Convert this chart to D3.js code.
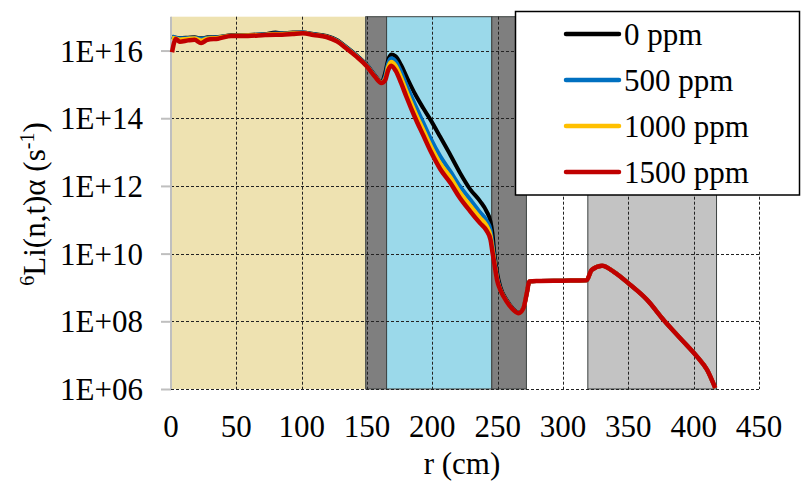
<!DOCTYPE html>
<html>
<head>
<meta charset="utf-8">
<script src="https://cdn.jsdelivr.net/npm/d3@7"></script>
<style>
  html, body { margin: 0; padding: 0; background: #fff; }
</style>
</head>
<body>
<div id="chart"></div>
<script>
// radial positions (cm), shared by all series
const radius = [0.8, 3.7, 6.7, 13, 18, 23, 28, 36, 46, 59, 72, 80, 85, 93, 101, 109, 119, 127, 134, 142,
  150, 156, 161, 164, 166, 168.5, 172, 176, 180, 187, 193, 199, 206, 214, 221, 229, 236.5, 241.5, 244.5, 246,
  247.5, 249.5, 252, 257, 262, 266, 269.7, 272.3, 274.3, 280, 300, 318, 322, 330, 338.6, 351.4, 364.2, 377, 389.7, 402.5,
  410.2, 416.5];

// log10 of the 6Li(n,t)a rate (s^-1)
const log_0ppm = [16.40, 16.38, 16.37, 16.38, 16.39, 16.36, 16.39, 16.40, 16.45, 16.46, 16.49, 16.53, 16.51, 16.53, 16.53, 16.49, 16.43, 16.31, 16.11, 15.86,
  15.57, 15.27, 15.06, 15.35, 15.70, 15.88, 15.83, 15.58, 15.25, 14.70, 14.30, 13.93, 13.45, 12.90, 12.40, 11.90, 11.55, 11.25, 10.95, 10.60,
  10.00, 9.45, 9.02, 8.62, 8.36, 8.25, 8.39, 8.83, 9.18, 9.19, 9.20, 9.21, 9.52, 9.64, 9.47, 9.08, 8.64, 8.04, 7.50, 6.96,
  6.57, 6.03];
const log_500ppm = [16.42, 16.38, 16.36, 16.37, 16.38, 16.35, 16.38, 16.39, 16.44, 16.45, 16.48, 16.50, 16.50, 16.52, 16.53, 16.48, 16.42, 16.30, 16.10, 15.85,
  15.56, 15.26, 15.05, 15.25, 15.60, 15.77, 15.68, 15.38, 15.00, 14.38, 13.88, 13.38, 12.88, 12.42, 12.00, 11.60, 11.22, 10.98, 10.70, 10.30,
  9.85, 9.32, 8.96, 8.60, 8.35, 8.24, 8.39, 8.83, 9.18, 9.19, 9.20, 9.21, 9.52, 9.64, 9.47, 9.08, 8.64, 8.04, 7.50, 6.96,
  6.57, 6.03];
const log_1000ppm = [16.38, 16.36, 16.33, 16.35, 16.36, 16.30, 16.36, 16.38, 16.44, 16.45, 16.47, 16.49, 16.49, 16.51, 16.52, 16.47, 16.41, 16.28, 16.08, 15.83,
  15.54, 15.24, 15.05, 15.18, 15.50, 15.67, 15.55, 15.22, 14.82, 14.17, 13.67, 13.17, 12.67, 12.25, 11.82, 11.42, 11.06, 10.83, 10.55, 10.18,
  9.77, 9.27, 8.94, 8.59, 8.34, 8.24, 8.39, 8.83, 9.18, 9.19, 9.20, 9.21, 9.52, 9.64, 9.47, 9.08, 8.64, 8.04, 7.50, 6.96,
  6.57, 6.03];
const log_1500ppm = [15.95, 16.34, 16.26, 16.30, 16.32, 16.22, 16.32, 16.35, 16.43, 16.43, 16.46, 16.47, 16.47, 16.49, 16.51, 16.46, 16.40, 16.27, 16.07, 15.82,
  15.53, 15.23, 15.04, 15.13, 15.40, 15.55, 15.40, 15.05, 14.65, 14.00, 13.50, 13.00, 12.50, 12.08, 11.65, 11.25, 10.90, 10.68, 10.42, 10.05,
  9.70, 9.23, 8.93, 8.58, 8.34, 8.24, 8.39, 8.83, 9.18, 9.19, 9.20, 9.21, 9.52, 9.64, 9.47, 9.08, 8.64, 8.04, 7.50, 6.96,
  6.57, 6.03];

const seriesNames = ['0 ppm', '500 ppm', '1000 ppm', '1500 ppm'];
const seriesColors = ['#000000', '#0070c0', '#ffc000', '#c00000'];
const seriesLogs = [log_0ppm, log_500ppm, log_1000ppm, log_1500ppm];

// material regions along r (cm)
const regionStart = [0, 149, 165, 245.5, 319];
const regionEnd = [149, 165, 245.5, 272, 417.5];
const regionFill = ['#eee2b1', '#7f7f7f', '#9bd9ea', '#7f7f7f', '#c3c3c3'];

const xTicks = [0, 50, 100, 150, 200, 250, 300, 350, 400, 450];
const yTicks = [1e6, 1e8, 1e10, 1e12, 1e14, 1e16];

const width = 803, height = 488;
const plot = { left: 171, right: 759, top: 16.7, bottom: 389 };
const fontSize = 31;

const svg = d3.select('#chart').append('svg')
  .attr('width', width).attr('height', height);

const x = d3.scaleLinear().domain([0, 450]).range([plot.left, plot.right]);
const y = d3.scaleLog().domain([1e6, 1e17]).range([plot.bottom, plot.top]);

// serif label helper
const label = (sel) => sel
  .style('font-family', '"Liberation Serif"')
  .attr('font-size', fontSize);

// background regions
svg.append('g').selectAll('rect')
  .data(regionStart)
  .join('rect')
  .attr('x', (d) => x(d))
  .attr('y', plot.top)
  .attr('width', (d, i) => x(regionEnd[i]) - x(d))
  .attr('height', plot.bottom - plot.top)
  .attr('fill', (d, i) => regionFill[i])
  .attr('stroke', (d, i) => (i === 0 ? 'none' : '#3c4240'))
  .attr('stroke-width', 1);

// grid lines
const grid = svg.append('g')
  .attr('stroke', '#222')
  .attr('stroke-width', 1)
  .attr('stroke-dasharray', '3,2');
grid.selectAll('.hgrid')
  .data(yTicks)
  .join('line')
  .attr('class', 'hgrid')
  .attr('x1', plot.left).attr('x2', plot.right)
  .attr('y1', (d) => Math.round(y(d)) + 0.5).attr('y2', (d) => Math.round(y(d)) + 0.5);
grid.selectAll('.vgrid')
  .data(xTicks.slice(1))
  .join('line')
  .attr('class', 'vgrid')
  .attr('x1', (d) => Math.round(x(d)) + 0.5).attr('x2', (d) => Math.round(x(d)) + 0.5)
  .attr('y1', plot.top).attr('y2', plot.bottom);

// left axis
const yAxis = svg.append('g')
  .attr('transform', `translate(${plot.left},0)`)
  .call(d3.axisLeft(y).tickValues(yTicks).tickSize(10).tickFormat(''));
yAxis.select('.domain').attr('stroke', '#bfbfbf').attr('stroke-width', 2)
  .attr('d', `M0,${plot.top}V${plot.bottom}`);
yAxis.selectAll('.tick line').attr('stroke', '#bfbfbf').attr('stroke-width', 2);

const expFmt = (d) => '1E+' + String(Math.round(Math.log10(d))).padStart(2, '0');
svg.append('g').selectAll('text')
  .data(yTicks)
  .join('text')
  .attr('x', 143)
  .attr('y', (d) => y(d) + 11)
  .attr('text-anchor', 'end')
  .call(label)
  .text(expFmt);

svg.append('g').selectAll('text')
  .data(xTicks)
  .join('text')
  .attr('x', (d) => x(d))
  .attr('y', 437)
  .attr('text-anchor', 'middle')
  .call(label)
  .text((d) => d);

// axis titles
svg.append('text')
  .attr('x', 462)
  .attr('y', 474)
  .attr('text-anchor', 'middle')
  .call(label)
  .text('r (cm)');

const yTitle = svg.append('text')
  .attr('transform', 'translate(45,204) rotate(-90)')
  .attr('text-anchor', 'middle')
  .call(label);
yTitle.append('tspan').attr('font-size', 20).attr('dy', -11).text('6');
yTitle.append('tspan').attr('dy', 11).text('Li(n,t)\u03b1 (s');
yTitle.append('tspan').attr('font-size', 20).attr('dy', -11).text('-1');
yTitle.append('tspan').attr('dy', 11).text(')');

// series lines
const line = d3.line()
  .x((d) => x(d[0]))
  .y((d) => y(d[1]))
  .curve(d3.curveMonotoneX);

svg.append('g').selectAll('path')
  .data(seriesLogs)
  .join('path')
  .attr('fill', 'none')
  .attr('stroke', (d, i) => seriesColors[i])
  .attr('stroke-width', (d, i) => (i === 3 ? 4.5 : 4))
  .attr('stroke-linejoin', 'round')
  .attr('d', (d) => line(radius.map((r, k) => [r, Math.pow(10, d[k])])));

// legend
const legend = svg.append('g');
legend.append('rect')
  .attr('x', 515.5).attr('y', 11.5)
  .attr('width', 284).attr('height', 183.5)
  .attr('fill', '#fff')
  .attr('stroke', '#000')
  .attr('stroke-width', 1.5);
const items = legend.selectAll('.item')
  .data(seriesNames)
  .join('g')
  .attr('class', 'item')
  .attr('transform', (d, i) => `translate(0,${34 + i * 46})`);
items.append('line')
  .attr('x1', 566).attr('x2', 619)
  .attr('stroke', (d, i) => seriesColors[i])
  .attr('stroke-width', 4.5)
  .attr('stroke-linecap', 'round');
items.append('text')
  .attr('x', 624)
  .attr('y', 10.5)
  .call(label)
  .text((d) => d);
</script>
</body>
</html>
